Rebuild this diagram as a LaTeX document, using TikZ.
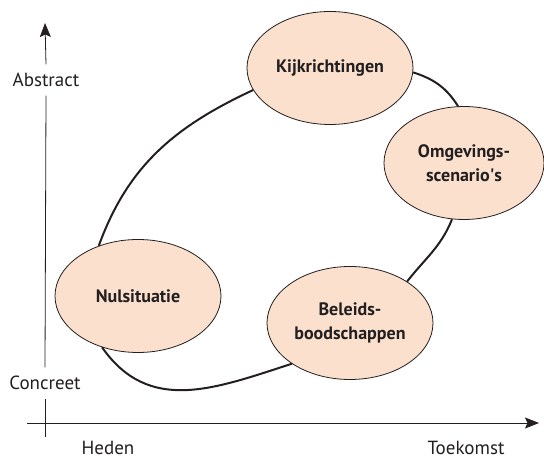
\documentclass[tikz,border=0pt]{standalone}
\usepackage{fontspec}
\setmainfont{PT Sans}
\usetikzlibrary{arrows.meta,shapes.geometric}
\definecolor{peach}{RGB}{250,224,205}
\definecolor{ink}{RGB}{35,31,32}
\tikzset{
  bubble/.style={ellipse,draw=ink,line width=0.8pt,fill=peach,minimum width=166pt,minimum height=113pt,inner sep=0pt,
    align=center,text=ink,font=\fontsize{18}{24}\selectfont\bfseries},
  axislabel/.style={inner sep=0pt,minimum height=31pt,text=ink,font=\fontsize{19}{20}\selectfont},
  timelabel/.style={inner sep=0pt,anchor=base,text=ink,font=\fontsize{19}{20}\selectfont},
  axis/.style={draw=ink,line width=0.8pt},
  loop/.style={draw=ink,line width=2pt},
  tip/.style={-{Stealth[length=14pt,width=11pt,inset=2.5pt]}}
}
\begin{document}
\begin{tikzpicture}[x=1pt,y=1pt]
\useasboundingbox (0,0) rectangle (544,460);
% axes
\coordinate (vbot) at (45,23);
\coordinate (vtop) at (45,437);
\coordinate (hleft) at (27,37);
\coordinate (hright) at (539,37);
\node[axislabel] (abstract) at (46,380) {Abstract};
\node[axislabel] (concreet) at (45,77) {Concreet};
\node[timelabel] (heden) at (108,5.5) {Heden};
\node[timelabel] (toekomst) at (466,5.5) {Toekomst};
\draw[axis] (vbot) -- (concreet.south);
\draw[axis] (concreet.north) -- (abstract.south);
\draw[axis,tip] (abstract.north) -- (vtop);
\draw[axis,tip] (hleft) -- (hright);
% loop
\path (330,392) coordinate (ck) (464,297) coordinate (co) (350,137) coordinate (cb) (138,164) coordinate (cn);
\node[bubble] (kijk) at (ck) {Kijkrichtingen};
\node[bubble,minimum width=160pt] (omg) at (co) {Omgevings-\\scenario\textquotesingle s};
\node[bubble] (bel) at (cb) {Beleids-\\boodschappen};
\node[bubble] (nul) at (cn) {Nulsituatie};
\draw[loop] (nul.128) to[out=70,in=205] (kijk.196);
\draw[loop] (kijk.357) to[out=-18,in=122] (omg.96);
\draw[loop] (omg.258) to[out=-112,in=52] (bel.36);
\draw[loop] (bel.215) to[out=198,in=-55,looseness=1.1] (nul.235);
\end{tikzpicture}
\end{document}
